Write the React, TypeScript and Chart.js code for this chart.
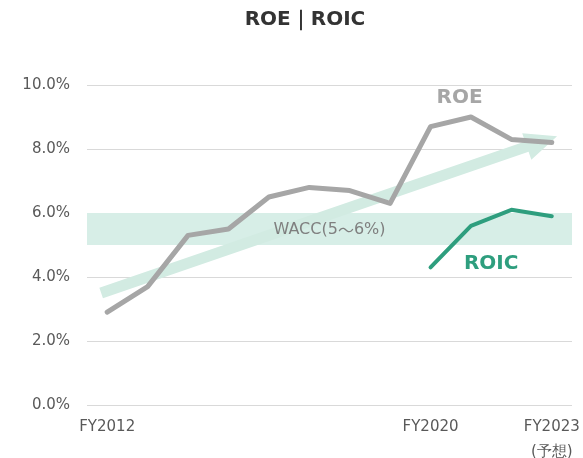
import React, { useEffect, useRef } from "react";
import { Chart, registerables } from "chart.js";

Chart.register(...registerables);

const categories: (string | string[])[] = [
  "FY2012", "", "", "", "", "", "", "", "FY2020", "", "", ["FY2023", "(予想)"],
];
const roeValues: (number | null)[] = [2.9, 3.7, 5.3, 5.5, 6.5, 6.8, 6.7, 6.3, 8.7, 9.0, 8.3, 8.2];
const roicValues: (number | null)[] = [null, null, null, null, null, null, null, null, 4.3, 5.6, 6.1, 5.9];
const yTicks: number[] = [0, 2, 4, 6, 8, 10];
const waccRange: number[] = [5, 6];
const arrowFrom: number[] = [-0.15, 3.5];
const arrowTo: number[] = [11.13, 8.4];

const TITLE = "ROE｜ROIC";
const WACC_PARTS: string[] = ["WACC(5", "～", "6%)"];
const FONT = "'DejaVu Sans', Verdana, sans-serif";
const CJK = "'Noto Sans CJK JP', sans-serif";

const decor = {
  id: "decor",
  beforeDatasetsDraw(chart: any) {
    const { ctx, chartArea, scales } = chart;
    const x = scales.x, y = scales.y;
    ctx.save();
    // WACC band
    ctx.fillStyle = "#d7eee7";
    const yTop = y.getPixelForValue(waccRange[1]);
    const yBot = y.getPixelForValue(waccRange[0]);
    ctx.fillRect(chartArea.left, yTop, chartArea.right - chartArea.left, yBot - yTop);
    // arrow
    const x0 = x.getPixelForValue(arrowFrom[0]);
    const y0 = y.getPixelForValue(arrowFrom[1]);
    const x1 = x.getPixelForValue(arrowTo[0]);
    const y1 = y.getPixelForValue(arrowTo[1]);
    const dx = x1 - x0, dy = y1 - y0;
    const len = Math.hypot(dx, dy);
    const ux = dx / len, uy = dy / len;
    const nx = -uy, ny = ux;
    const headLen = 32, headHalf = 14, shaftHalf = 5.5;
    const bx = x1 - ux * headLen, by = y1 - uy * headLen;
    ctx.fillStyle = "#d2ebe2";
    ctx.beginPath();
    ctx.moveTo(x0 + nx * shaftHalf, y0 + ny * shaftHalf);
    ctx.lineTo(bx + nx * shaftHalf, by + ny * shaftHalf);
    ctx.lineTo(bx + nx * headHalf, by + ny * headHalf);
    ctx.lineTo(x1, y1);
    ctx.lineTo(bx - nx * headHalf, by - ny * headHalf);
    ctx.lineTo(bx - nx * shaftHalf, by - ny * shaftHalf);
    ctx.lineTo(x0 - nx * shaftHalf, y0 - ny * shaftHalf);
    ctx.closePath();
    ctx.fill();
    // WACC label (three parts so the full-width tilde uses a CJK font)
    ctx.fillStyle = "#7f7f7f";
    ctx.textAlign = "left";
    ctx.textBaseline = "middle";
    const fonts = [`16px ${FONT}`, `16px ${CJK}`, `16px ${FONT}`];
    let total = 0;
    const widths = WACC_PARTS.map((p, i) => {
      ctx.font = fonts[i];
      const w = ctx.measureText(p).width;
      total += w;
      return w;
    });
    let cx = x.getPixelForValue(5.5) - total / 2;
    const cy = y.getPixelForValue(5.48);
    WACC_PARTS.forEach((p, i) => {
      ctx.font = fonts[i];
      ctx.fillText(p, cx, cy);
      cx += widths[i];
    });
    ctx.restore();
  },
  afterDraw(chart: any) {
    const { ctx, scales } = chart;
    const x = scales.x, y = scales.y;
    ctx.save();
    ctx.textAlign = "center";
    ctx.textBaseline = "middle";
    ctx.font = `bold 20px ${FONT}`;
    ctx.fillStyle = "#a6a6a6";
    ctx.fillText("ROE", x.getPixelForValue(8.72), y.getPixelForValue(9.6));
    ctx.fillStyle = "#2e9e7e";
    ctx.fillText("ROIC", x.getPixelForValue(9.5), y.getPixelForValue(4.4));
    ctx.fillStyle = "#333333";
    ctx.font = `bold 20px ${FONT}`;
    ctx.fillText(TITLE, 305, 20);
    ctx.restore();
  },
};

export default function App() {
  const ref = useRef<HTMLCanvasElement | null>(null);
  useEffect(() => {
    if (!ref.current) return;
    const chart = new Chart(ref.current, {
      type: "line",
      data: {
        labels: categories,
        datasets: [
          {
            label: "ROE",
            data: roeValues,
            borderColor: "#a6a6a6",
            borderWidth: 5,
            pointRadius: 0,
            borderCapStyle: "round",
            borderJoinStyle: "round",
            tension: 0,
          },
          {
            label: "ROIC",
            data: roicValues,
            borderColor: "#2e9e7e",
            borderWidth: 4,
            pointRadius: 0,
            borderCapStyle: "round",
            borderJoinStyle: "round",
            tension: 0,
          },
        ],
      },
      options: {
        animation: false,
        responsive: false,
        maintainAspectRatio: false,
        layout: { padding: { top: 85, right: 11, left: 0, bottom: 0 } },
        plugins: {
          legend: { display: false },
          tooltip: { enabled: false },
          title: { display: false },
        },
        scales: {
          x: {
            offset: true,
            grid: { display: false, drawTicks: false },
            border: { display: false },
            ticks: {
              autoSkip: false,
              maxRotation: 0,
              color: "#595959",
              padding: 10,
              font: { family: FONT, size: 15, lineHeight: 1.65 },
            },
            afterFit(s: any) {
              s.height = 53;
              s.paddingLeft = 0;
              s.paddingRight = 0;
            },
          },
          y: {
            min: 0,
            max: 10,
            afterBuildTicks(s: any) { s.ticks = yTicks.map((v) => ({ value: v })); },
            grid: { color: "#d9d9d9", lineWidth: 1, drawTicks: false },
            border: { display: false },
            ticks: {
              color: "#595959",
              padding: 17,
              font: { family: FONT, size: 15 },
              callback: (v: any) => Number(v).toFixed(1) + "%",
            },
            afterFit(s: any) {
              s.width = 87;
              s.paddingTop = 0;
              s.paddingBottom = 0;
            },
          },
        },
      },
      plugins: [decor],
    });
    return () => chart.destroy();
  }, []);
  return (
    <div style={{ position: "absolute", left: 0, top: 0, width: 583, height: 458, background: "#fff" }}>
      <canvas ref={ref} width={583} height={458} />
    </div>
  );
}
